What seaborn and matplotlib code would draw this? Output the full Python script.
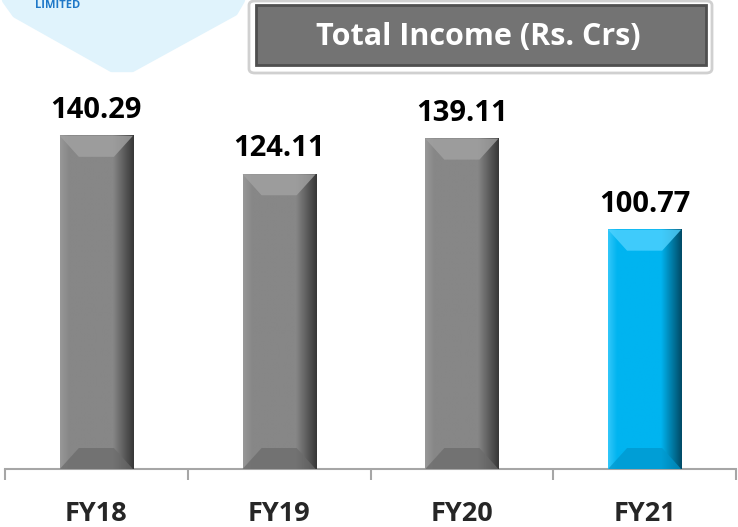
import numpy as np
import pandas as pd
import matplotlib
matplotlib.use('Agg')
import matplotlib.pyplot as plt
import seaborn as sns
from matplotlib.patches import Polygon, FancyBboxPatch

# ── Data ──────────────────────────────────────────────────────────────
years = ['FY18', 'FY19', 'FY20', 'FY21']
income = [140.29, 124.11, 139.11, 100.77]
title = 'Total Income (Rs. Crs)'

face = ['#878787', '#878787', '#878787', '#00B4F0']
light = ['#A2A2A2', '#A2A2A2', '#A2A2A2', '#4FD2FF']
dark = ['#383838', '#383838', '#383838', '#004C68']
lowc = ['#6A6A6A', '#6A6A6A', '#6A6A6A', '#0096CC']

sns.set_theme(style='white')
plt.rcParams['font.family'] = ['Open Sans', 'DejaVu Sans']

df = pd.DataFrame({'year': years, 'income': income})

W, H = 738, 527
fig = plt.figure(figsize=(W / 100, H / 100), dpi=100)
ax = fig.add_axes([5 / W, 1 - 469 / H, 731 / W, 380 / H])

sns.barplot(data=df, x='year', y='income', hue='year', palette=face,
            legend=False, width=0.40, saturation=1, ax=ax, zorder=2)
ax.set_ylim(0, 160)
ax.set_xlim(-0.5, len(years) - 0.5)

# ── Bevel shading, derived from each bar's geometry ───────────────────
fig.canvas.draw()
px_per_x = ax.transData.transform((1, 0))[0] - ax.transData.transform((0, 0))[0]
px_per_y = ax.transData.transform((0, 1))[1] - ax.transData.transform((0, 0))[1]
for i, p in enumerate(ax.patches):
    x0, w, h = p.get_x(), p.get_width(), p.get_height()
    x1 = x0 + w
    bx = 19 / px_per_x
    by = 21 / px_per_y
    c_face = np.array(matplotlib.colors.to_rgb(face[i]))
    c_l = np.array(matplotlib.colors.to_rgb(light[i]))
    c_d = np.array(matplotlib.colors.to_rgb(dark[i]))
    img = np.zeros((1, 64, 3))
    for k, g in enumerate(np.linspace(0, 1, 64)):
        if g < 0.12:
            t = g / 0.12
            img[0, k] = c_l * (1 - t) * 0.6 + c_face * (0.4 + 0.6 * t)
        elif g < 0.72:
            img[0, k] = c_face
        else:
            t = (g - 0.72) / 0.28
            img[0, k] = c_face * (1 - t) + c_d * t
    ax.imshow(img, extent=(x0, x1, 0, h), aspect='auto', zorder=3,
              interpolation='bilinear')
    ax.add_patch(Polygon([(x0, h), (x1, h), (x1 - bx, h - by), (x0 + bx, h - by)],
                         closed=True, fc=light[i], ec='none', alpha=0.8, zorder=4))
    ax.add_patch(Polygon([(x0, 0), (x1, 0), (x1 - bx, by), (x0 + bx, by)],
                         closed=True, fc=lowc[i], ec='none', alpha=0.7, zorder=4))
    ax.annotate(f'{income[i]:.2f}', (x0 + w / 2, h), xytext=(0, 13),
                textcoords='offset points', ha='center', va='baseline',
                fontsize=21, fontweight='bold', color='black')

ax.set_xlim(-0.5, len(years) - 0.5)
ax.set_ylim(0, 160)

# ── Axes styling ──────────────────────────────────────────────────────
for s in ['top', 'right', 'left']:
    ax.spines[s].set_visible(False)
ax.spines['bottom'].set_color('#A6A6A6')
ax.spines['bottom'].set_linewidth(1.5)
ax.set_yticks([])
ax.set_xticks(np.arange(-0.5, len(years), 1), minor=False)
ax.set_xticklabels([])
ax.tick_params(axis='x', which='major', length=8, width=1.5, color='#A6A6A6',
               bottom=True, direction='out')
ax.set_xticks(np.arange(len(years)), minor=True)
ax.set_xticklabels(years, minor=True, fontsize=19.5, fontweight='bold')
ax.tick_params(axis='x', which='minor', length=0, pad=23)
ax.set_xlabel('')
ax.set_ylabel('')

# ── Decorative logo corner ────────────────────────────────────────────
logo = Polygon([(6 / W, 1), (241 / W, 1), (234 / W, 1 - 12 / H),
                (132 / W, 1 - 68 / H), (112 / W, 1 - 68 / H),
                (16 / W, 1 - 14 / H)],
               closed=True, transform=fig.transFigure, fc='#E0F3FC', ec='#E0F3FC',
               lw=6, joinstyle='round', zorder=0)
fig.patches.append(logo)
fig.text(35 / W, 1 - 6 / H, 'LIMITED', fontsize=8, fontweight='bold',
         color='#1F78C8', ha='left', va='center')

# ── Title box ─────────────────────────────────────────────────────────
shadow = FancyBboxPatch((249 / W, 1 - 73 / H), 463 / W, 72 / H,
                        boxstyle='round,pad=0,rounding_size=0.008',
                        transform=fig.transFigure, fc='white', ec='#D0D0D0',
                        lw=2, zorder=1)
fig.patches.append(shadow)
box = FancyBboxPatch((256 / W, 1 - 65 / H), 450 / W, 60 / H,
                     boxstyle='square,pad=0', transform=fig.transFigure,
                     fc='#737373', ec='#4F4F4F', lw=2, zorder=2)
fig.patches.append(box)
fig.text(478 / W, 1 - 37 / H, title, fontsize=22, fontweight='bold',
         color='white', ha='center', va='center', zorder=3)

fig.savefig('out.png', dpi=100)
